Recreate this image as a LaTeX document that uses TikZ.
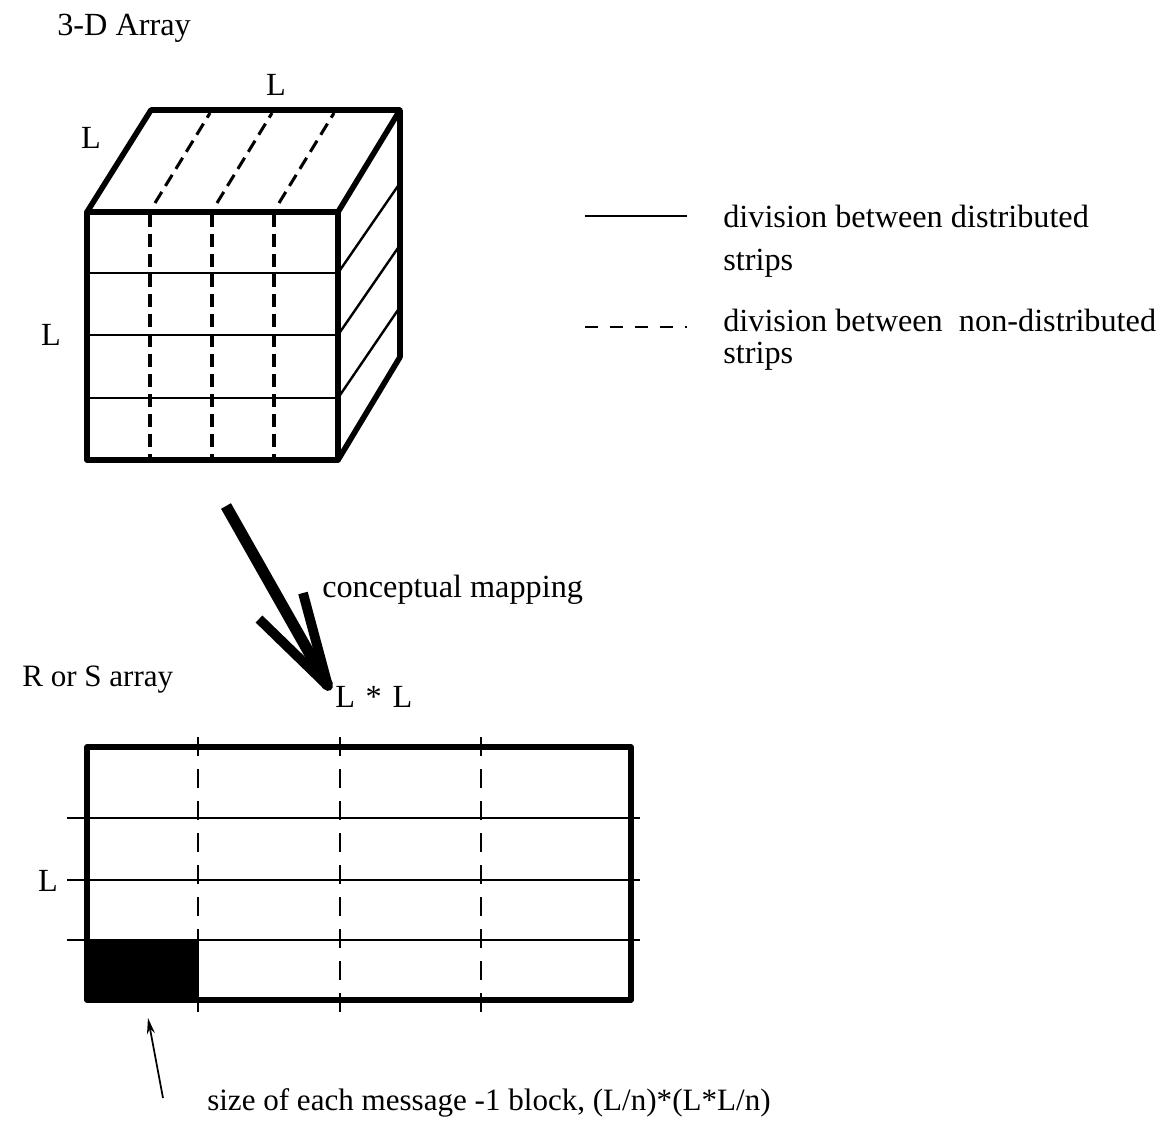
\documentclass[tikz,border=0pt]{standalone}
\usepackage{fontspec}
\setmainfont{Liberation Serif}
\usetikzlibrary{arrows.meta}
\begin{document}
\begin{tikzpicture}[x=0.75pt,y=-0.75pt,
  lbl/.style={inner sep=0pt, font=\fontsize{24.2}{29}\selectfont},
  smalllbl/.style={inner sep=0pt, font=\fontsize{23.3}{28}\selectfont},
  heavy/.style={line width=4.2pt, line join=round},
  thin/.style={line width=1.8pt},
  cubedash/.style={line width=2.3pt, dash pattern=on 9.75pt off 5.25pt},
  griddash/.style={line width=1.9pt, dash pattern=on 14pt off 10pt},
  keydash/.style={line width=1.9pt, dash pattern=on 9.75pt off 9pt},
  bigshaft/.style={line width=8.5pt},
  bigbarb/.style={line width=7.3pt, line join=round}]
\useasboundingbox (0,0) rectangle (1162,1139);

% ---- 3-D array (cube) ----
\node[lbl, anchor=base west] (title3d) at (57,35) {3-D Array};
\node[lbl, anchor=base] (Ltop) at (276,95) {L};
\node[lbl, anchor=base] (Ldepth) at (91,148) {L};
\node[lbl, anchor=base] (Lheight) at (51,345) {L};

% strips seen on the front face
\foreach \y in {273,335,398} \draw[thin] (87,\y) -- (338,\y);
\foreach \x in {150,212,274} \draw[cubedash] (\x,214) -- (\x,460);
% strips seen on the top face
\foreach \x in {155,217,279} \draw[cubedash] (\x,203) -- ++(55,-90);
% strips seen on the right face
\draw[thin] (338,273) -- (400,183);
\draw[thin] (338,335) -- (400,245);
\draw[thin] (338,398) -- (400,307);
% outline
\draw[heavy] (87,212) rectangle (338,460);
\draw[heavy] (87,212) -- (151,110) -- (400,110) -- (338,212);
\draw[heavy] (400,110) -- (400,357) -- (338,460);

% ---- legend ----
\coordinate (keyA1) at (585,216);
\coordinate (keyA2) at (687,216);
\coordinate (keyB1) at (585,327);
\coordinate (keyB2) at (687,327);
\draw[thin] (keyA1) -- (keyA2);
\draw[keydash] (keyB1) -- (keyB2);
\node[lbl, anchor=base west] (keyA) at (723,227) {division between distributed};
\node[lbl, anchor=base west] (keyAb) at (723,270) {strips};
\node[lbl, anchor=base west] (keyB) at (723,331) {division between\ \ non-distributed};
\node[lbl, anchor=base west] (keyBb) at (723,363) {strips};

% ---- mapping arrow ----
\coordinate (mapfrom) at (226,506);
\coordinate (mapto) at (328,686);
\coordinate (barbL) at (259,619);
\coordinate (barbR) at (303,593);
\draw[bigshaft] (mapfrom) -- (mapto);
\draw[bigbarb] (barbL) -- (mapto) -- (barbR);
\node[lbl, anchor=base west] (maplbl) at (322,597) {conceptual mapping};

% ---- R or S array ----
\node[smalllbl, anchor=base west] (rsname) at (22,686) {R or S array};
\node[lbl, anchor=base west] (LxL) at (335,707) {L\,\,*\,\,L};
\node[lbl, anchor=base] (Lrows) at (48,891) {L};

\fill (87,940) rectangle (199,1000);
\foreach \y in {818,880,940} \draw[thin] (67,\y) -- (640,\y);
\foreach \x in {198,340,481} \draw[griddash] (\x,737) -- (\x,1015);
\draw[heavy] (87,747) rectangle (631,1000);

% ---- block size note ----
\coordinate (notetail) at (163,1098);
\coordinate (notehead) at (148,1018);
\draw[line width=1.3pt, -{Stealth[length=12pt,width=6pt]}] (notetail) -- (notehead);
\node[smalllbl, anchor=base west] (note) at (207,1110) {size of each message -1 block, (L/n)*(L*L/n)};
\end{tikzpicture}
\end{document}
